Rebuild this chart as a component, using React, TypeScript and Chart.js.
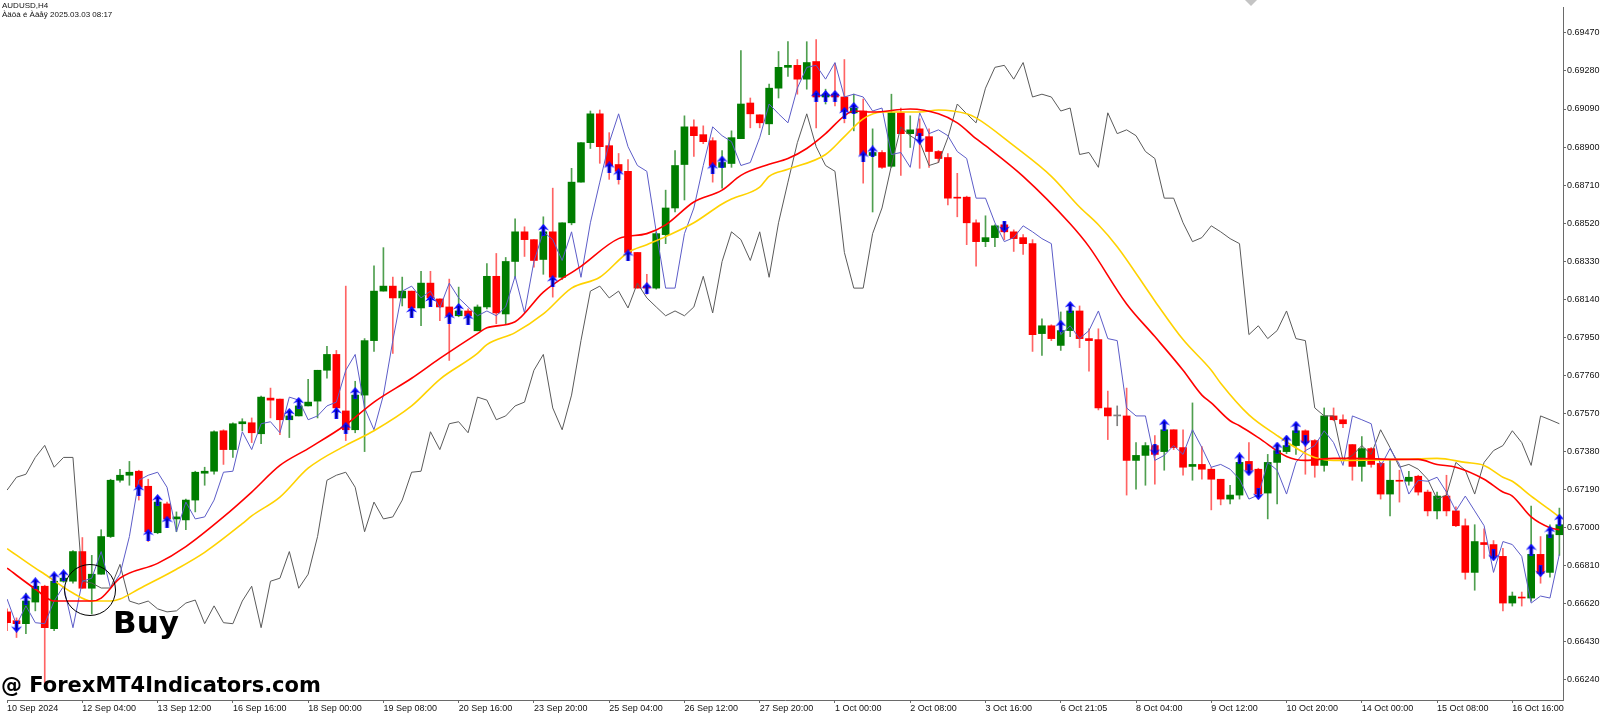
import React, { useEffect, useRef } from "react";
import { Chart, registerables } from "chart.js";

Chart.register(...registerables);

// ---------- axis texts ----------
const xTickBars = [0, 8, 16, 24, 32, 40, 48, 56, 64, 72, 80, 88, 96, 104, 112, 120, 128, 136, 144, 152, 160];
const xTickLabels = [
  "10 Sep 2024", "12 Sep 04:00", "13 Sep 12:00", "16 Sep 16:00", "18 Sep 00:00", "19 Sep 08:00",
  "20 Sep 16:00", "23 Sep 20:00", "25 Sep 04:00", "26 Sep 12:00", "27 Sep 20:00", "1 Oct 00:00",
  "2 Oct 08:00", "3 Oct 16:00", "6 Oct 21:05", "8 Oct 04:00", "9 Oct 12:00", "10 Oct 20:00",
  "14 Oct 00:00", "15 Oct 08:00", "16 Oct 16:00",
];
const yTickValues = [
  0.6624, 0.6643, 0.6662, 0.6681, 0.67, 0.6719, 0.6738, 0.6757, 0.6776,
  0.6795, 0.6814, 0.6833, 0.6852, 0.6871, 0.689, 0.6909, 0.6928, 0.6947,
];

// ---------- candles (AUDUSD H4) ----------
const opens = [
  0.66580, 0.66536, 0.66521, 0.66629, 0.66708, 0.66496, 0.66733, 0.66733, 0.66881, 0.66698,
  0.66768, 0.66956, 0.67237, 0.67262, 0.67282, 0.67207, 0.66975, 0.67119, 0.67044, 0.67039,
  0.67138, 0.67272, 0.67282, 0.67484, 0.67390, 0.67519, 0.67524, 0.67469, 0.67647, 0.67642,
  0.67539, 0.67558, 0.67608, 0.67632, 0.67786, 0.67865, 0.67583, 0.67489, 0.67662, 0.67934,
  0.68181, 0.68206, 0.68147, 0.68181, 0.68097, 0.68221, 0.68142, 0.68102, 0.68058, 0.68082,
  0.67983, 0.68102, 0.68255, 0.68067, 0.68329, 0.68477, 0.68438, 0.68339, 0.68477, 0.68250,
  0.68522, 0.68725, 0.68922, 0.69066, 0.68907, 0.68813, 0.68779, 0.68374, 0.68206, 0.68196,
  0.68463, 0.68596, 0.68813, 0.69001, 0.68962, 0.68932, 0.68799, 0.68818, 0.68942, 0.69120,
  0.69061, 0.69016, 0.69194, 0.69298, 0.69308, 0.69239, 0.69327, 0.69150, 0.69164, 0.69150,
  0.69071, 0.69080, 0.68858, 0.68873, 0.68804, 0.69071, 0.68967, 0.68991, 0.68952, 0.68878,
  0.68848, 0.68650, 0.68650, 0.68522, 0.68428, 0.68448, 0.68512, 0.68477, 0.68448, 0.68418,
  0.67969, 0.68008, 0.67910, 0.67984, 0.68082, 0.67944, 0.67939, 0.67598, 0.67558, 0.67558,
  0.67336, 0.67361, 0.67410, 0.67380, 0.67489, 0.67400, 0.67306, 0.67316, 0.67292, 0.67242,
  0.67143, 0.67163, 0.67331, 0.67292, 0.67173, 0.67326, 0.67380, 0.67410, 0.67484, 0.67435,
  0.67311, 0.67558, 0.67539, 0.67415, 0.67306, 0.67395, 0.67321, 0.67168, 0.67237, 0.67232,
  0.67257, 0.67178, 0.67084, 0.67158, 0.67084, 0.67010, 0.66777, 0.66926, 0.66916, 0.66857,
  0.66624, 0.66654, 0.66649, 0.66867, 0.66777, 0.66965,
];
const highs = [
  0.66595, 0.66550, 0.66674, 0.66733, 0.66713, 0.66753, 0.66772, 0.66886, 0.66951, 0.66862,
  0.66990, 0.67242, 0.67292, 0.67331, 0.67287, 0.67242, 0.67143, 0.67128, 0.67079, 0.67143,
  0.67282, 0.67302, 0.67484, 0.67489, 0.67524, 0.67544, 0.67548, 0.67657, 0.67697, 0.67642,
  0.67563, 0.67623, 0.67741, 0.67786, 0.67905, 0.67885, 0.68206, 0.67731, 0.67944, 0.68307,
  0.68398, 0.68251, 0.68251, 0.68181, 0.68280, 0.68280, 0.68142, 0.68241, 0.68201, 0.68092,
  0.68112, 0.68319, 0.68369, 0.68349, 0.68542, 0.68502, 0.68438, 0.68552, 0.68695, 0.68522,
  0.68794, 0.68922, 0.69080, 0.69085, 0.68972, 0.68868, 0.68838, 0.68374, 0.68265, 0.68477,
  0.68685, 0.68883, 0.69056, 0.69036, 0.69006, 0.68947, 0.68883, 0.68981, 0.69382, 0.69145,
  0.69061, 0.69214, 0.69377, 0.69426, 0.69337, 0.69426, 0.69436, 0.69189, 0.69318, 0.69337,
  0.69164, 0.69140, 0.68991, 0.68883, 0.69164, 0.69095, 0.69056, 0.69041, 0.68991, 0.68883,
  0.68868, 0.68769, 0.68655, 0.68537, 0.68557, 0.68512, 0.68527, 0.68487, 0.68463, 0.68438,
  0.68043, 0.68013, 0.68077, 0.68117, 0.68107, 0.67993, 0.67993, 0.67682, 0.67608, 0.67697,
  0.67425, 0.67425, 0.67460, 0.67524, 0.67489, 0.67489, 0.67623, 0.67405, 0.67302, 0.67242,
  0.67212, 0.67336, 0.67425, 0.67297, 0.67366, 0.67395, 0.67415, 0.67499, 0.67489, 0.67440,
  0.67598, 0.67598, 0.67563, 0.67415, 0.67455, 0.67400, 0.67326, 0.67341, 0.67287, 0.67282,
  0.67262, 0.67188, 0.67178, 0.67262, 0.67104, 0.67044, 0.67015, 0.66995, 0.66936, 0.66897,
  0.66679, 0.66679, 0.67108, 0.66956, 0.67015, 0.67098,
];
const lows = [
  0.66486, 0.66452, 0.66471, 0.66585, 0.66224, 0.66486, 0.66728, 0.66723, 0.66698, 0.66570,
  0.66768, 0.66951, 0.67227, 0.67212, 0.67138, 0.66931, 0.66970, 0.67010, 0.66980, 0.66990,
  0.67079, 0.67212, 0.67267, 0.67316, 0.67351, 0.67484, 0.67425, 0.67420, 0.67548, 0.67464,
  0.67450, 0.67558, 0.67608, 0.67548, 0.67746, 0.67563, 0.67435, 0.67474, 0.67380, 0.67880,
  0.68181, 0.67870, 0.68107, 0.68058, 0.68008, 0.68132, 0.68033, 0.67835, 0.68053, 0.68028,
  0.67983, 0.68092, 0.68018, 0.68018, 0.68250, 0.68354, 0.68300, 0.68265, 0.68151, 0.68240,
  0.68512, 0.68725, 0.68893, 0.68819, 0.68739, 0.68715, 0.68339, 0.68196, 0.68166, 0.68191,
  0.68418, 0.68576, 0.68636, 0.68853, 0.68917, 0.68725, 0.68695, 0.68799, 0.68942, 0.68996,
  0.68996, 0.68962, 0.69145, 0.69253, 0.69164, 0.69189, 0.68996, 0.69115, 0.69105, 0.69021,
  0.68981, 0.68720, 0.68576, 0.68794, 0.68799, 0.68759, 0.68898, 0.68794, 0.68799, 0.68823,
  0.68611, 0.68552, 0.68413, 0.68305, 0.68403, 0.68403, 0.68438, 0.68379, 0.68364, 0.67880,
  0.67860, 0.67934, 0.67885, 0.67954, 0.67899, 0.67781, 0.67588, 0.67440, 0.67509, 0.67163,
  0.67193, 0.67212, 0.67217, 0.67287, 0.67390, 0.67262, 0.67237, 0.67242, 0.67089, 0.67114,
  0.67119, 0.67143, 0.67272, 0.67143, 0.67044, 0.67119, 0.67370, 0.67366, 0.67267, 0.67252,
  0.67282, 0.67534, 0.67499, 0.67237, 0.67232, 0.67302, 0.67143, 0.67059, 0.67128, 0.67212,
  0.67163, 0.67059, 0.67044, 0.67059, 0.67005, 0.66743, 0.66688, 0.66847, 0.66852, 0.66585,
  0.66609, 0.66609, 0.66634, 0.66723, 0.66753, 0.66862,
];
const closes = [
  0.66526, 0.66521, 0.66634, 0.66708, 0.66501, 0.66733, 0.66748, 0.66881, 0.66698, 0.66768,
  0.66956, 0.67237, 0.67262, 0.67277, 0.67202, 0.66980, 0.67128, 0.67044, 0.67054, 0.67138,
  0.67277, 0.67282, 0.67479, 0.67390, 0.67519, 0.67529, 0.67474, 0.67652, 0.67637, 0.67539,
  0.67558, 0.67608, 0.67627, 0.67786, 0.67865, 0.67598, 0.67489, 0.67662, 0.67934, 0.68181,
  0.68206, 0.68147, 0.68181, 0.68097, 0.68221, 0.68147, 0.68102, 0.68058, 0.68082, 0.68058,
  0.68102, 0.68255, 0.68072, 0.68329, 0.68477, 0.68438, 0.68334, 0.68477, 0.68250, 0.68522,
  0.68725, 0.68922, 0.69066, 0.68902, 0.68808, 0.68779, 0.68374, 0.68196, 0.68196, 0.68468,
  0.68596, 0.68808, 0.69001, 0.68957, 0.68927, 0.68808, 0.68823, 0.68947, 0.69115, 0.69066,
  0.69021, 0.69194, 0.69298, 0.69308, 0.69239, 0.69322, 0.69150, 0.69164, 0.69150, 0.69080,
  0.69095, 0.68863, 0.68873, 0.68799, 0.69071, 0.68967, 0.68986, 0.68957, 0.68878, 0.68843,
  0.68645, 0.68645, 0.68522, 0.68428, 0.68448, 0.68507, 0.68477, 0.68443, 0.68418, 0.67964,
  0.68008, 0.67944, 0.67984, 0.68082, 0.67944, 0.67934, 0.67598, 0.67558, 0.67558, 0.67336,
  0.67361, 0.67410, 0.67366, 0.67489, 0.67400, 0.67302, 0.67316, 0.67292, 0.67242, 0.67143,
  0.67163, 0.67326, 0.67287, 0.67168, 0.67326, 0.67385, 0.67410, 0.67484, 0.67425, 0.67311,
  0.67558, 0.67539, 0.67519, 0.67306, 0.67395, 0.67316, 0.67168, 0.67237, 0.67232, 0.67252,
  0.67178, 0.67084, 0.67158, 0.67084, 0.67010, 0.66777, 0.66931, 0.66916, 0.66857, 0.66624,
  0.66659, 0.66649, 0.66867, 0.66772, 0.66965, 0.67015,
];

// ---------- indicator lines ----------
const blueLine = [
  0.66644, 0.66515, 0.66610, 0.66526, 0.66521, 0.66634, 0.66708, 0.66501, 0.66733, 0.66748,
  0.66881, 0.66698, 0.66768, 0.66956, 0.67237, 0.67262, 0.67277, 0.67202, 0.66980, 0.67128,
  0.67044, 0.67054, 0.67138, 0.67277, 0.67282, 0.67479, 0.67390, 0.67519, 0.67529, 0.67474,
  0.67652, 0.67637, 0.67539, 0.67558, 0.67608, 0.67627, 0.67786, 0.67865, 0.67598, 0.67489,
  0.67662, 0.67934, 0.68181, 0.68206, 0.68147, 0.68181, 0.68097, 0.68221, 0.68147, 0.68102,
  0.68058, 0.68082, 0.68058, 0.68102, 0.68255, 0.68072, 0.68329, 0.68477, 0.68438, 0.68334,
  0.68477, 0.68250, 0.68522, 0.68725, 0.68922, 0.69066, 0.68902, 0.68808, 0.68779, 0.68477,
  0.68196, 0.68196, 0.68468, 0.68596, 0.68808, 0.69001, 0.68957, 0.68927, 0.68808, 0.68823,
  0.68947, 0.69115, 0.69066, 0.69021, 0.69194, 0.69298, 0.69308, 0.69239, 0.69322, 0.69150,
  0.69164, 0.69150, 0.69080, 0.69095, 0.68863, 0.68873, 0.68799, 0.69071, 0.68967, 0.68986,
  0.68957, 0.68878, 0.68843, 0.68645, 0.68645, 0.68522, 0.68428, 0.68448, 0.68507, 0.68477,
  0.68443, 0.68418, 0.67964, 0.68008, 0.67944, 0.67984, 0.68082, 0.67944, 0.67934, 0.67598,
  0.67558, 0.67558, 0.67336, 0.67361, 0.67410, 0.67366, 0.67489, 0.67400, 0.67302, 0.67316,
  0.67292, 0.67242, 0.67143, 0.67163, 0.67326, 0.67287, 0.67168, 0.67326, 0.67385, 0.67410,
  0.67484, 0.67425, 0.67311, 0.67558, 0.67539, 0.67519, 0.67306, 0.67395, 0.67316, 0.67168,
  0.67237, 0.67232, 0.67252, 0.67178, 0.67084, 0.67158, 0.67084, 0.67010, 0.66777, 0.66931,
  0.66916, 0.66857, 0.66624, 0.66659, 0.66649, 0.66867,
];
const grayLine = [
  0.67188, 0.67252, 0.67267, 0.67351, 0.67411, 0.67302, 0.67351, 0.67351, 0.66733, 0.66724,
  0.66699, 0.66699, 0.66817, 0.66634, 0.66619, 0.66634, 0.66595, 0.66580, 0.66585, 0.66624,
  0.66639, 0.66521, 0.66610, 0.66526, 0.66521, 0.66634, 0.66708, 0.66501, 0.66733, 0.66748,
  0.66881, 0.66698, 0.66768, 0.66956, 0.67237, 0.67262, 0.67277, 0.67202, 0.66980, 0.67128,
  0.67044, 0.67054, 0.67138, 0.67277, 0.67282, 0.67479, 0.67390, 0.67519, 0.67529, 0.67474,
  0.67652, 0.67637, 0.67539, 0.67558, 0.67608, 0.67627, 0.67786, 0.67865, 0.67598, 0.67489,
  0.67662, 0.67934, 0.68181, 0.68206, 0.68147, 0.68181, 0.68097, 0.68221, 0.68147, 0.68102,
  0.68058, 0.68082, 0.68058, 0.68102, 0.68255, 0.68072, 0.68329, 0.68477, 0.68438, 0.68334,
  0.68477, 0.68250, 0.68522, 0.68725, 0.68922, 0.69066, 0.68902, 0.68808, 0.68779, 0.68374,
  0.68196, 0.68196, 0.68468, 0.68596, 0.68808, 0.69001, 0.68957, 0.68927, 0.68808, 0.68823,
  0.68947, 0.69115, 0.69066, 0.69021, 0.69194, 0.69298, 0.69308, 0.69239, 0.69322, 0.69150,
  0.69164, 0.69150, 0.69080, 0.69095, 0.68863, 0.68873, 0.68799, 0.69071, 0.68967, 0.68986,
  0.68957, 0.68878, 0.68843, 0.68645, 0.68645, 0.68522, 0.68428, 0.68448, 0.68507, 0.68477,
  0.68443, 0.68418, 0.67964, 0.68008, 0.67944, 0.67984, 0.68082, 0.67944, 0.67934, 0.67598,
  0.67558, 0.67558, 0.67336, 0.67361, 0.67410, 0.67366, 0.67489, 0.67400, 0.67302, 0.67316,
  0.67292, 0.67242, 0.67143, 0.67163, 0.67326, 0.67287, 0.67168, 0.67326, 0.67385, 0.67410,
  0.67484, 0.67425, 0.67311, 0.67558, 0.67539, 0.67519,
];
const redBars = [0, 3, 5, 9, 10, 12, 16, 19, 23, 26, 29, 32, 36, 39, 43, 46, 50, 51, 54, 57, 61, 65, 68, 70, 73, 76, 78, 81, 83, 85, 87, 89, 90, 92, 96, 99, 101, 103, 104, 108, 113, 115, 119, 122, 125, 127, 128, 130, 131, 133, 136, 138, 141, 143, 148, 150, 152, 154, 157, 159, 160, 162, 164, 165];
const redVals = [0.66798, 0.66694, 0.66634, 0.66634, 0.66649, 0.66748, 0.66822, 0.66906, 0.67054, 0.67178, 0.67311, 0.67395, 0.67514, 0.67627, 0.67746, 0.67845, 0.67969, 0.67998, 0.68028, 0.68176, 0.68305, 0.68443, 0.68468, 0.68512, 0.68626, 0.68685, 0.68759, 0.68814, 0.68843, 0.68893, 0.68967, 0.69056, 0.69080, 0.69075, 0.69090, 0.69066, 0.69021, 0.68942, 0.68907, 0.68754, 0.68517, 0.68403, 0.68117, 0.67954, 0.67786, 0.67662, 0.67623, 0.67534, 0.67509, 0.67450, 0.67356, 0.67336, 0.67346, 0.67346, 0.67341, 0.67341, 0.67316, 0.67302, 0.67242, 0.67178, 0.67158, 0.67054, 0.67000, 0.66990];
const yellowBars = [0, 3, 4, 7, 9, 11, 12, 14, 18, 21, 25, 26, 29, 32, 36, 39, 43, 46, 50, 51, 54, 57, 60, 63, 66, 68, 70, 73, 76, 77, 80, 81, 83, 87, 89, 91, 93, 95, 97, 99, 102, 103, 107, 111, 114, 116, 118, 122, 125, 128, 129, 132, 135, 138, 139, 141, 148, 152, 155, 157, 159, 160, 162, 164, 165];
const yellowVals = [0.66896, 0.66798, 0.66768, 0.66674, 0.66634, 0.66634, 0.66644, 0.66694, 0.66793, 0.66877, 0.67020, 0.67059, 0.67153, 0.67297, 0.67411, 0.67484, 0.67608, 0.67741, 0.67870, 0.67914, 0.67974, 0.68067, 0.68196, 0.68250, 0.68374, 0.68413, 0.68453, 0.68522, 0.68616, 0.68641, 0.68700, 0.68754, 0.68789, 0.68863, 0.68952, 0.69041, 0.69075, 0.69075, 0.69075, 0.69085, 0.69066, 0.69046, 0.68907, 0.68754, 0.68601, 0.68512, 0.68403, 0.68132, 0.67939, 0.67786, 0.67721, 0.67563, 0.67460, 0.67371, 0.67351, 0.67336, 0.67341, 0.67346, 0.67326, 0.67311, 0.67252, 0.67232, 0.67158, 0.67089, 0.67054];

// ---------- signal arrows ----------
const upArrowBars = [2, 3, 5, 6, 14, 15, 16, 17, 30, 31, 35, 36, 37, 43, 45, 47, 48, 49, 57, 58, 64, 65, 66, 68, 75, 76, 86, 87, 88, 89, 90, 91, 92, 112, 113, 123, 131, 135, 136, 137, 162, 164, 165];
const upArrowVals = [0.66644, 0.66723, 0.66753, 0.66763, 0.67188, 0.66965, 0.67138, 0.67030, 0.67568, 0.67623, 0.67573, 0.67499, 0.67672, 0.68077, 0.68132, 0.68048, 0.68092, 0.68043, 0.68487, 0.68231, 0.68799, 0.68764, 0.68359, 0.68196, 0.68794, 0.68828, 0.69155, 0.69155, 0.69155, 0.69071, 0.69095, 0.68853, 0.68878, 0.68008, 0.68102, 0.67514, 0.67346, 0.67400, 0.67435, 0.67504, 0.66891, 0.66980, 0.67040];
const downArrowBars = [1, 97, 106, 122, 132, 133, 138, 158, 163];
const downArrowVals = [0.66506, 0.68942, 0.68502, 0.67390, 0.67287, 0.67168, 0.67435, 0.66862, 0.66783];

// ---------- view window ----------
const X_MIN = -0.0106;
const X_MAX = 165.386;
const Y_MIN = 0.661401;
const Y_MAX = 0.695992;

const FONT = "'Liberation Sans', Arial, sans-serif";
const AXIS = "#6a6a6a";

function makeArrow(up: boolean): HTMLCanvasElement {
  const c = document.createElement("canvas");
  c.width = 11;
  c.height = 12;
  const g = c.getContext("2d") as CanvasRenderingContext2D;
  g.fillStyle = "#0a0aff";
  g.beginPath();
  if (up) {
    g.moveTo(5.5, 0);
    g.lineTo(11, 6.5);
    g.lineTo(7.3, 5);
    g.lineTo(7.3, 12);
    g.lineTo(3.7, 12);
    g.lineTo(3.7, 5);
    g.lineTo(0, 6.5);
  } else {
    g.moveTo(5.5, 12);
    g.lineTo(11, 5.5);
    g.lineTo(7.3, 7);
    g.lineTo(7.3, 0);
    g.lineTo(3.7, 0);
    g.lineTo(3.7, 7);
    g.lineTo(0, 5.5);
  }
  g.closePath();
  g.fill();
  g.fillStyle = "#000080";
  g.fillRect(4.8, up ? 3 : 1, 1.4, 8);
  return c;
}

export default function App() {
  const ref = useRef<HTMLCanvasElement | null>(null);

  useEffect(() => {
    const canvas = ref.current;
    if (!canvas) return;
    const upImg = makeArrow(true);
    const downImg = makeArrow(false);

    const idx = opens.map((_, i) => i);
    const bull = idx.filter((i) => closes[i] > opens[i]);
    const bear = idx.filter((i) => closes[i] < opens[i]);
    const flat = idx.filter((i) => closes[i] === opens[i]);
    const wick = (list: number[]) => list.map((i) => ({ x: i, y: [lows[i], highs[i]] }));
    const body = (list: number[]) => list.map((i) => ({ x: i, y: [opens[i], closes[i]] }));

    const barBase = { type: "bar", grouped: false, borderWidth: 0 };

    const datasets: any[] = [
      { ...barBase, data: wick(bull), backgroundColor: "#4f9f4f", barThickness: 1, maxBarThickness: 1, order: 7 },
      { ...barBase, data: wick(bear), backgroundColor: "#ff6464", barThickness: 1, maxBarThickness: 1, order: 7 },
      { ...barBase, data: wick(flat), backgroundColor: "#808080", barThickness: 1, maxBarThickness: 1, order: 7 },
      { ...barBase, data: body(bull), backgroundColor: "#007d00", barThickness: 7, maxBarThickness: 7, minBarLength: 1, order: 6 },
      { ...barBase, data: body(bear), backgroundColor: "#ff0000", barThickness: 7, maxBarThickness: 7, minBarLength: 1, order: 6 },
      { ...barBase, data: body(flat), backgroundColor: "#808080", barThickness: 7, maxBarThickness: 7, minBarLength: 1, order: 6 },
      {
        type: "line",
        data: grayLine.map((v, i) => ({ x: i, y: v })),
        borderColor: "#5a5a5a",
        borderWidth: 1,
        pointRadius: 0,
        tension: 0,
        order: 5,
      },
      {
        type: "line",
        data: blueLine.map((v, i) => ({ x: i, y: v })),
        borderColor: "#5c5cc8",
        borderWidth: 1,
        pointRadius: 0,
        tension: 0,
        order: 4,
      },
      {
        type: "line",
        data: yellowBars.map((b, k) => ({ x: b, y: yellowVals[k] })),
        borderColor: "#ffd200",
        borderWidth: 1.6,
        pointRadius: 0,
        cubicInterpolationMode: "monotone",
        order: 3,
      },
      {
        type: "line",
        data: redBars.map((b, k) => ({ x: b, y: redVals[k] })),
        borderColor: "#ff0000",
        borderWidth: 1.6,
        pointRadius: 0,
        cubicInterpolationMode: "monotone",
        order: 2,
      },
      {
        type: "scatter",
        data: upArrowBars.map((b, k) => ({ x: b, y: upArrowVals[k] })),
        pointStyle: upImg,
        pointRadius: 6,
        order: 1,
      },
      {
        type: "scatter",
        data: downArrowBars.map((b, k) => ({ x: b, y: downArrowVals[k] })),
        pointStyle: downImg,
        pointRadius: 6,
        order: 1,
      },
    ];

    const chart = new Chart(canvas, {
      type: "bar",
      data: { datasets },
      options: {
        responsive: false,
        animation: false,
        devicePixelRatio: 1,
        events: [],
        layout: { padding: 0 },
        plugins: {
          legend: { display: false },
          tooltip: { enabled: false },
          title: { display: false },
        },
        scales: {
          x: {
            type: "linear",
            position: "bottom",
            min: X_MIN,
            max: X_MAX,
            offset: false,
            grid: { display: true, offset: false, drawOnChartArea: false, drawTicks: true, tickLength: 3, color: AXIS },
            border: { display: true, color: AXIS, width: 1 },
            ticks: {
              autoSkip: false,
              maxRotation: 0,
              minRotation: 0,
              align: "start",
              padding: 0,
              color: "#111",
              font: { family: FONT, size: 9 },
              callback: (_v: any, i: number) => xTickLabels[i] ?? "",
            },
            afterBuildTicks: (s: any) => {
              s.ticks = xTickBars.map((v) => ({ value: v }));
            },
            afterFit: (s: any) => {
              s.height = 14;
              s.paddingLeft = 0;
              s.paddingRight = 0;
            },
          },
          y: {
            type: "linear",
            position: "right",
            min: Y_MIN,
            max: Y_MAX,
            grid: { display: true, drawOnChartArea: false, drawTicks: true, tickLength: 3, color: AXIS },
            border: { display: true, color: AXIS, width: 1 },
            ticks: {
              padding: 1,
              color: "#111",
              font: { family: FONT, size: 9 },
              callback: (v: any) => Number(v).toFixed(5),
            },
            afterBuildTicks: (s: any) => {
              s.ticks = yTickValues.map((v) => ({ value: v }));
            },
            afterFit: (s: any) => {
              s.width = 37;
              s.paddingTop = 0;
              s.paddingBottom = 0;
            },
          },
        },
      } as any,
    } as any);

    return () => chart.destroy();
  }, []);

  return (
    <div style={{ position: "relative", width: 1600, height: 714, background: "#fff", overflow: "hidden" }}>
      <style>{"body{margin:0;background:#fff}"}</style>
      <canvas ref={ref} width={1600} height={714} style={{ position: "absolute", left: 0, top: 0, width: 1600, height: 714 }} />
      <div
        style={{
          position: "absolute",
          left: 2,
          top: 1,
          font: `8px ${FONT}`,
          lineHeight: "9px",
          color: "#111",
          whiteSpace: "pre",
        }}
      >
        {"AUDUSD,H4\nÀäöà é Àâåÿ 2025.03.03 08:17"}
      </div>
      <div
        style={{
          position: "absolute",
          left: 1245,
          top: 0,
          width: 0,
          height: 0,
          borderLeft: "6px solid transparent",
          borderRight: "6px solid transparent",
          borderTop: "6px solid #c4c4c4",
        }}
      />
      <div
        style={{
          position: "absolute",
          left: 64,
          top: 564,
          width: 52,
          height: 52,
          boxSizing: "border-box",
          border: "1.5px solid #000",
          borderRadius: "50%",
        }}
      />
      <div
        style={{
          position: "absolute",
          left: 113,
          top: 607,
          font: "bold 31px 'DejaVu Sans', Verdana, sans-serif",
          lineHeight: "31px",
          color: "#000",
          whiteSpace: "nowrap",
        }}
      >
        Buy
      </div>
      <div
        style={{
          position: "absolute",
          left: 1,
          top: 675,
          font: "bold 21px 'DejaVu Sans', Verdana, sans-serif",
          lineHeight: "21px",
          color: "#000",
          whiteSpace: "nowrap",
        }}
      >
        @ ForexMT4Indicators.com
      </div>
    </div>
  );
}
